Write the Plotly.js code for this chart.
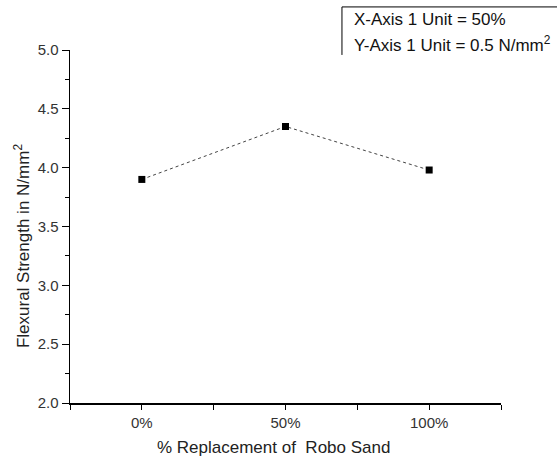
<!DOCTYPE html>
<html>
<head>
<meta charset="utf-8">
<script src="https://cdn.plot.ly/plotly-3.0.1.min.js"></script>
<style>html,body{margin:0;padding:0;background:#fff;}#chart{width:557px;height:460px;}</style>
</head>
<body>
<div id="chart"></div>
<script>
const categories = ["0%", "50%", "100%"];
const positions = [0, 1, 2];
const strength = [3.90, 4.35, 3.98];
const yTicks = [2.0, 2.5, 3.0, 3.5, 4.0, 4.5, 5.0];
const yTickText = ["2.0", "2.5", "3.0", "3.5", "4.0", "4.5", "5.0"];
const xTitle = '% Replacement of  Robo Sand';
const yTitle = 'Flexural Strength in N/mm<sup>2</sup>';
const noteLines = ['X-Axis 1 Unit = 50%', 'Y-Axis 1 Unit = 0.5 N/mm<sup>2</sup>'];

const trace = {
  x: positions,
  y: strength,
  type: 'scatter',
  mode: 'lines+markers',
  line: {color: '#444', width: 1, dash: 'dot'},
  marker: {symbol: 'square', size: 7, color: '#000'},
  showlegend: false,
  hoverinfo: 'skip'
};

const layout = {
  width: 557, height: 460,
  margin: {l: 70, r: 56, t: 50, b: 57},
  paper_bgcolor: '#fff', plot_bgcolor: '#fff',
  font: {family: 'Liberation Sans, Arial, sans-serif', color: '#222', size: 15},
  xaxis: {
    range: [-0.5, 2.5],
    tickmode: 'array', tickvals: positions, ticktext: categories,
    ticks: 'outside', ticklen: 5, tickwidth: 1, tickcolor: '#000',
    showline: true, linecolor: '#000', linewidth: 1.5,
    showgrid: false, zeroline: false,
    minor: {tickmode: 'array', tickvals: [-0.5, 0.5, 1.5, 2.5], ticks: 'outside', ticklen: 5, tickcolor: '#000', showgrid: false},
    tickfont: {size: 15, color: '#333'}
  },
  yaxis: {
    range: [2.0, 5.0],
    tickmode: 'array', tickvals: yTicks, ticktext: yTickText,
    ticks: 'outside', ticklen: 7, tickwidth: 1, tickcolor: '#000',
    showline: true, linecolor: '#000', linewidth: 1.5,
    showgrid: false, zeroline: false,
    minor: {dtick: 0.25, ticks: 'outside', ticklen: 4, tickcolor: '#000', showgrid: false},
    tickfont: {size: 15, color: '#333'}
  },
  shapes: [
    {type: 'line', xref: 'paper', yref: 'paper', x0: 0.631, x1: 0.631, y0: 0.986, y1: 1.122, line: {color: '#000', width: 1}},
    {type: 'line', xref: 'paper', yref: 'paper', x0: 0.631, x1: 1.2, y0: 1.122, y1: 1.122, line: {color: '#000', width: 1}}
  ],
  annotations: [
    {xref: 'paper', yref: 'paper', x: 0.654, y: 1.085, xanchor: 'left', yanchor: 'middle', showarrow: false,
     text: noteLines[0], font: {size: 17, color: '#111'}},
    {xref: 'paper', yref: 'paper', x: 0.654, y: 1.017, xanchor: 'left', yanchor: 'middle', showarrow: false,
     text: noteLines[1], font: {size: 17, color: '#111'}},
    {xref: 'paper', yref: 'paper', x: 0.471, y: -0.125, xanchor: 'center', yanchor: 'middle', showarrow: false,
     text: xTitle, font: {size: 17, color: '#222'}},
    {xref: 'paper', yref: 'paper', x: -0.111, y: 0.445, xanchor: 'center', yanchor: 'middle', showarrow: false,
     textangle: -90, text: yTitle, font: {size: 17, color: '#222'}}
  ]
};

Plotly.newPlot('chart', [trace], layout, {staticPlot: true, displayModeBar: false});
</script>
</body>
</html>
